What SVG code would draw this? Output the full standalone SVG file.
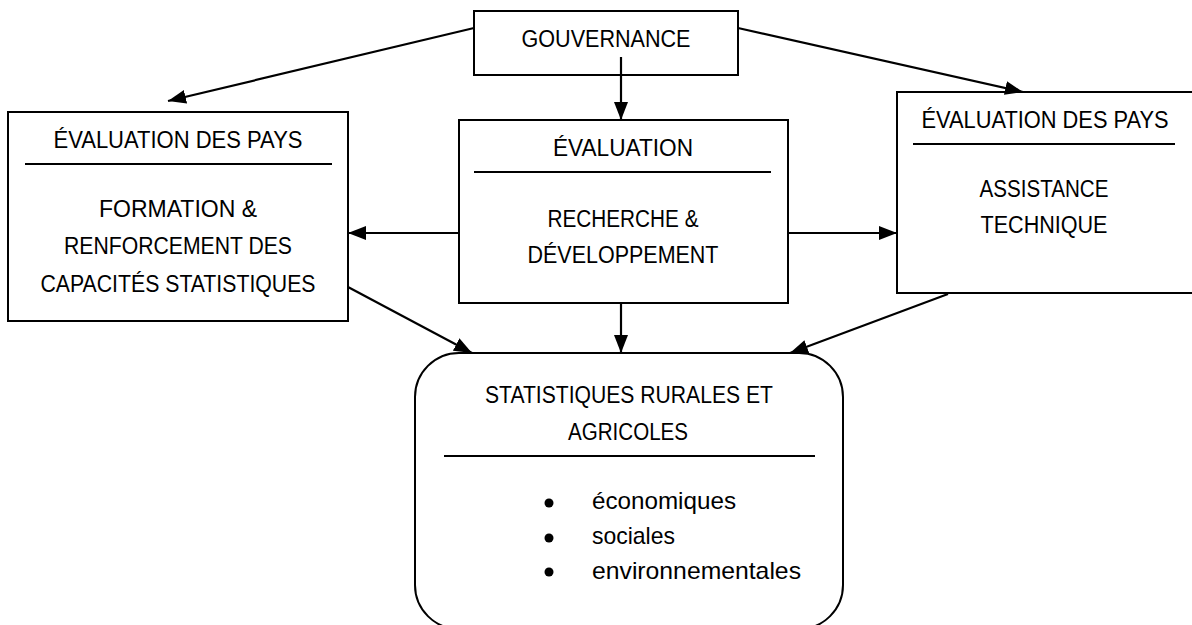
<svg xmlns="http://www.w3.org/2000/svg" width="1192" height="625" viewBox="0 0 1192 625">
<style>
.box{fill:#fff;stroke:#000;stroke-width:2}
.div{stroke:#000;stroke-width:2}
.t{font-family:"Liberation Sans",Arial,sans-serif;font-size:23.5px;fill:#000;text-anchor:middle}
.l{font-family:"Liberation Sans",Arial,sans-serif;font-size:24px;fill:#000}
.c{stroke:#000;stroke-width:2.2;fill:none;marker-end:url(#ah)}
</style>
<defs>
<marker id="ah" markerUnits="userSpaceOnUse" markerWidth="18" markerHeight="14" refX="18" refY="7" orient="auto">
<path d="M0,0 L18,7 L0,14 z" fill="#000"/>
</marker>
</defs>
<rect width="1192" height="625" fill="#fff"/>
<g id="gouvernance">
<rect class="box" x="474" y="11" width="264" height="64"/>
<text class="t" x="606" y="47" textLength="169" lengthAdjust="spacingAndGlyphs">GOUVERNANCE</text>
</g>
<g id="formation">
<rect class="box" x="8" y="112" width="340" height="209"/>
<text class="t" x="178" y="148" textLength="249" lengthAdjust="spacingAndGlyphs">ÉVALUATION DES PAYS</text>
<line class="div" x1="25" y1="164" x2="332" y2="164"/>
<text class="t" x="178" y="217" textLength="158" lengthAdjust="spacingAndGlyphs">FORMATION &amp;</text>
<text class="t" x="178" y="254" textLength="228" lengthAdjust="spacingAndGlyphs">RENFORCEMENT DES</text>
<text class="t" x="178" y="292" textLength="275" lengthAdjust="spacingAndGlyphs">CAPACITÉS STATISTIQUES</text>
</g>
<g id="recherche">
<rect class="box" x="459" y="120" width="329" height="183"/>
<text class="t" x="623" y="156" textLength="140" lengthAdjust="spacingAndGlyphs">ÉVALUATION</text>
<line class="div" x1="474" y1="172" x2="771" y2="172"/>
<text class="t" x="623" y="227" textLength="151" lengthAdjust="spacingAndGlyphs">RECHERCHE &amp;</text>
<text class="t" x="623" y="263" textLength="191" lengthAdjust="spacingAndGlyphs">DÉVELOPPEMENT</text>
</g>
<g id="assistance">
<rect class="box" x="897" y="92" width="310" height="201"/>
<text class="t" x="1045" y="128" textLength="247" lengthAdjust="spacingAndGlyphs">ÉVALUATION DES PAYS</text>
<line class="div" x1="913" y1="144" x2="1175" y2="144"/>
<text class="t" x="1044" y="197" textLength="129" lengthAdjust="spacingAndGlyphs">ASSISTANCE</text>
<text class="t" x="1044" y="233" textLength="127" lengthAdjust="spacingAndGlyphs">TECHNIQUE</text>
</g>
<g id="statistiques">
<rect class="box" x="415" y="353" width="428" height="276" rx="44" ry="44"/>
<text class="t" x="629" y="403" textLength="288" lengthAdjust="spacingAndGlyphs">STATISTIQUES RURALES ET</text>
<text class="t" x="628" y="440" textLength="120" lengthAdjust="spacingAndGlyphs">AGRICOLES</text>
<line class="div" x1="444" y1="456" x2="815" y2="456"/>
<circle cx="549" cy="503" r="4.5"/>
<circle cx="549" cy="538" r="4.5"/>
<circle cx="549" cy="572" r="4.5"/>
<text class="l" x="592" y="509" textLength="144" lengthAdjust="spacingAndGlyphs">économiques</text>
<text class="l" x="592" y="544" textLength="83" lengthAdjust="spacingAndGlyphs">sociales</text>
<text class="l" x="592" y="579" textLength="209" lengthAdjust="spacingAndGlyphs">environnementales</text>
</g>
<g id="connectors">
<line class="c" x1="474" y1="28" x2="168" y2="101"/>
<line class="c" x1="621" y1="57" x2="621" y2="120"/>
<line class="c" x1="738" y1="28" x2="1023" y2="92"/>
<line class="c" x1="459" y1="233" x2="348" y2="233"/>
<line class="c" x1="788" y1="233" x2="897" y2="233"/>
<line class="c" x1="348" y1="287" x2="472" y2="353"/>
<line class="c" x1="621" y1="303" x2="621" y2="353"/>
<line class="c" x1="948" y1="294" x2="790" y2="353"/>
</g>
</svg>
